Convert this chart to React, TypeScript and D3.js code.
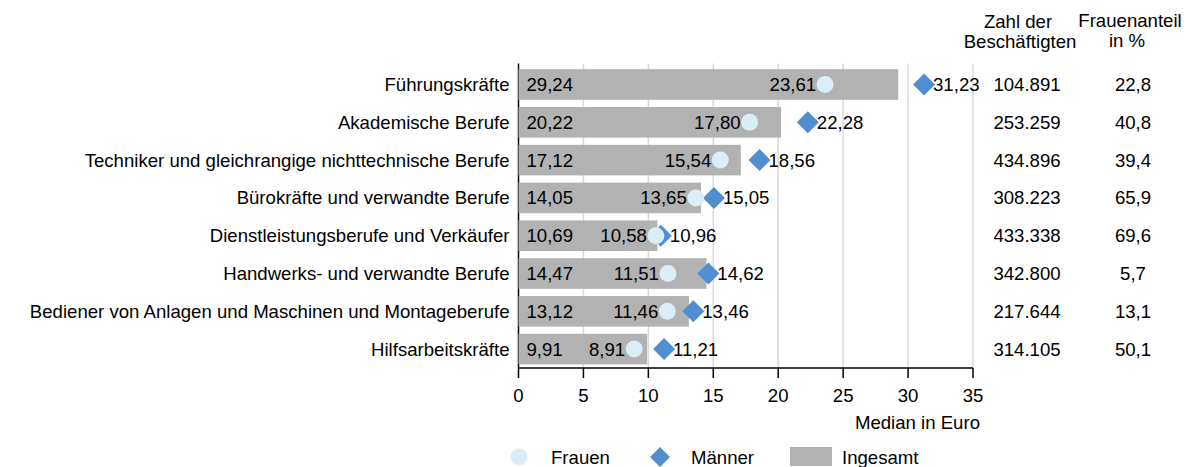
import React from "react";
import * as d3 from "d3";

const categories = [
  "Führungskräfte",
  "Akademische Berufe",
  "Techniker und gleichrangige nichttechnische Berufe",
  "Bürokräfte und verwandte Berufe",
  "Dienstleistungsberufe und Verkäufer",
  "Handwerks- und verwandte Berufe",
  "Bediener von Anlagen und Maschinen und Montageberufe",
  "Hilfsarbeitskräfte",
];
const frauen = [23.61, 17.8, 15.54, 13.65, 10.58, 11.51, 11.46, 8.91];
const maenner = [31.23, 22.28, 18.56, 15.05, 10.96, 14.62, 13.46, 11.21];
const gesamt = [29.24, 20.22, 17.12, 14.05, 10.69, 14.47, 13.12, 9.91];
const beschaeftigte = ["104.891", "253.259", "434.896", "308.223", "433.338", "342.800", "217.644", "314.105"];
const frauenanteil = ["22,8", "40,8", "39,4", "65,9", "69,6", "5,7", "13,1", "50,1"];
const xTicks = [0, 5, 10, 15, 20, 25, 30, 35];

const W = 1189;
const H = 467;
const FONT = "'Liberation Sans', Arial, Helvetica, sans-serif";
const C_BAR = "#b2b2b2";
const C_F = "#d9eef6";
const C_M = "#4f8fcf";
const fmt = (v: number) => v.toFixed(2).replace(".", ",");

export default function App() {
  const x = d3.scaleLinear().domain([0, 35]).range([518.5, 973]);
  const y = d3
    .scaleBand<string>()
    .domain(categories)
    .range([65.6, 368])
    .paddingInner(0.19)
    .paddingOuter(0.095);
  const bw = y.bandwidth();
  const cy = (i: number) => (y(categories[i]) as number) + bw / 2;
  const diamond = (cx: number, c: number, r: number) =>
    `M${cx},${c - r}L${cx + r},${c}L${cx},${c + r}L${cx - r},${c}Z`;
  const top = 65.6;
  const axisY = 368;
  const fs = 18.6;

  return (
    <svg
      width={W}
      height={H}
      style={{ position: "absolute", left: 0, top: 0, display: "block" }}
      fontFamily={FONT}
    >
      <rect width={W} height={H} fill="#fff" />
      {/* gridlines */}
      {xTicks.slice(1).map((t) => (
        <line key={t} x1={x(t)} x2={x(t)} y1={top - 2} y2={axisY} stroke="#d9d9d9" strokeWidth={1.5} />
      ))}
      {/* y axis line */}
      <line x1={x(0)} x2={x(0)} y1={top - 2} y2={axisY} stroke="#000" strokeWidth={1.5} />
      {/* bars */}
      {categories.map((c, i) => (
        <rect key={c} x={x(0)} y={y(c)} width={x(gesamt[i]) - x(0)} height={bw} fill={C_BAR} />
      ))}
      {/* diamonds */}
      {categories.map((c, i) => (
        <path key={c} d={diamond(x(maenner[i]), cy(i), 11)} fill={C_M} />
      ))}
      {/* circles */}
      {categories.map((c, i) => (
        <circle key={c} cx={x(frauen[i])} cy={cy(i)} r={8.5} fill={C_F} />
      ))}
      {/* labels */}
      {categories.map((c, i) => (
        <g key={c} fontSize={fs} fill="#000">
          <text x={x(0) - 9} y={cy(i)} dy="0.35em" textAnchor="end">{c}</text>
          <text x={x(0) + 8} y={cy(i)} dy="0.35em">{fmt(gesamt[i])}</text>
          <text x={x(frauen[i]) - 9} y={cy(i)} dy="0.35em" textAnchor="end">{fmt(frauen[i])}</text>
          <text x={x(maenner[i]) + 9} y={cy(i)} dy="0.35em">{fmt(maenner[i])}</text>
          <text x={1027} y={cy(i)} dy="0.35em" textAnchor="middle">{beschaeftigte[i]}</text>
          <text x={1133} y={cy(i)} dy="0.35em" textAnchor="middle">{frauenanteil[i]}</text>
        </g>
      ))}
      {/* x axis */}
      <line x1={x(0)} x2={x(35)} y1={axisY} y2={axisY} stroke="#000" strokeWidth={1.5} />
      {xTicks.map((t) => (
        <g key={t}>
          <line x1={x(t)} x2={x(t)} y1={axisY} y2={axisY + 10} stroke="#000" strokeWidth={1.5} />
          <text x={x(t)} y={402} fontSize={fs} textAnchor="middle">{t}</text>
        </g>
      ))}
      <text x={980} y={429} fontSize={fs} textAnchor="end">Median in Euro</text>
      {/* header */}
      <g fontSize={fs} textAnchor="middle">
        <text x={1018} y={28}>Zahl der</text>
        <text x={1020} y={48}>Beschäftigten</text>
        <text x={1130} y={27}>Frauenanteil</text>
        <text x={1127} y={47}>in %</text>
      </g>
      {/* legend */}
      <g fontSize={fs}>
        <circle cx={519} cy={457} r={8.5} fill={C_F} />
        <text x={551} y={457} dy="0.35em">Frauen</text>
        <path d={diamond(660, 457, 10)} fill={C_M} />
        <text x={691} y={457} dy="0.35em">Männer</text>
        <rect x={790} y={447} width={42} height={19} fill={C_BAR} />
        <text x={842} y={457} dy="0.35em">Ingesamt</text>
      </g>
    </svg>
  );
}
